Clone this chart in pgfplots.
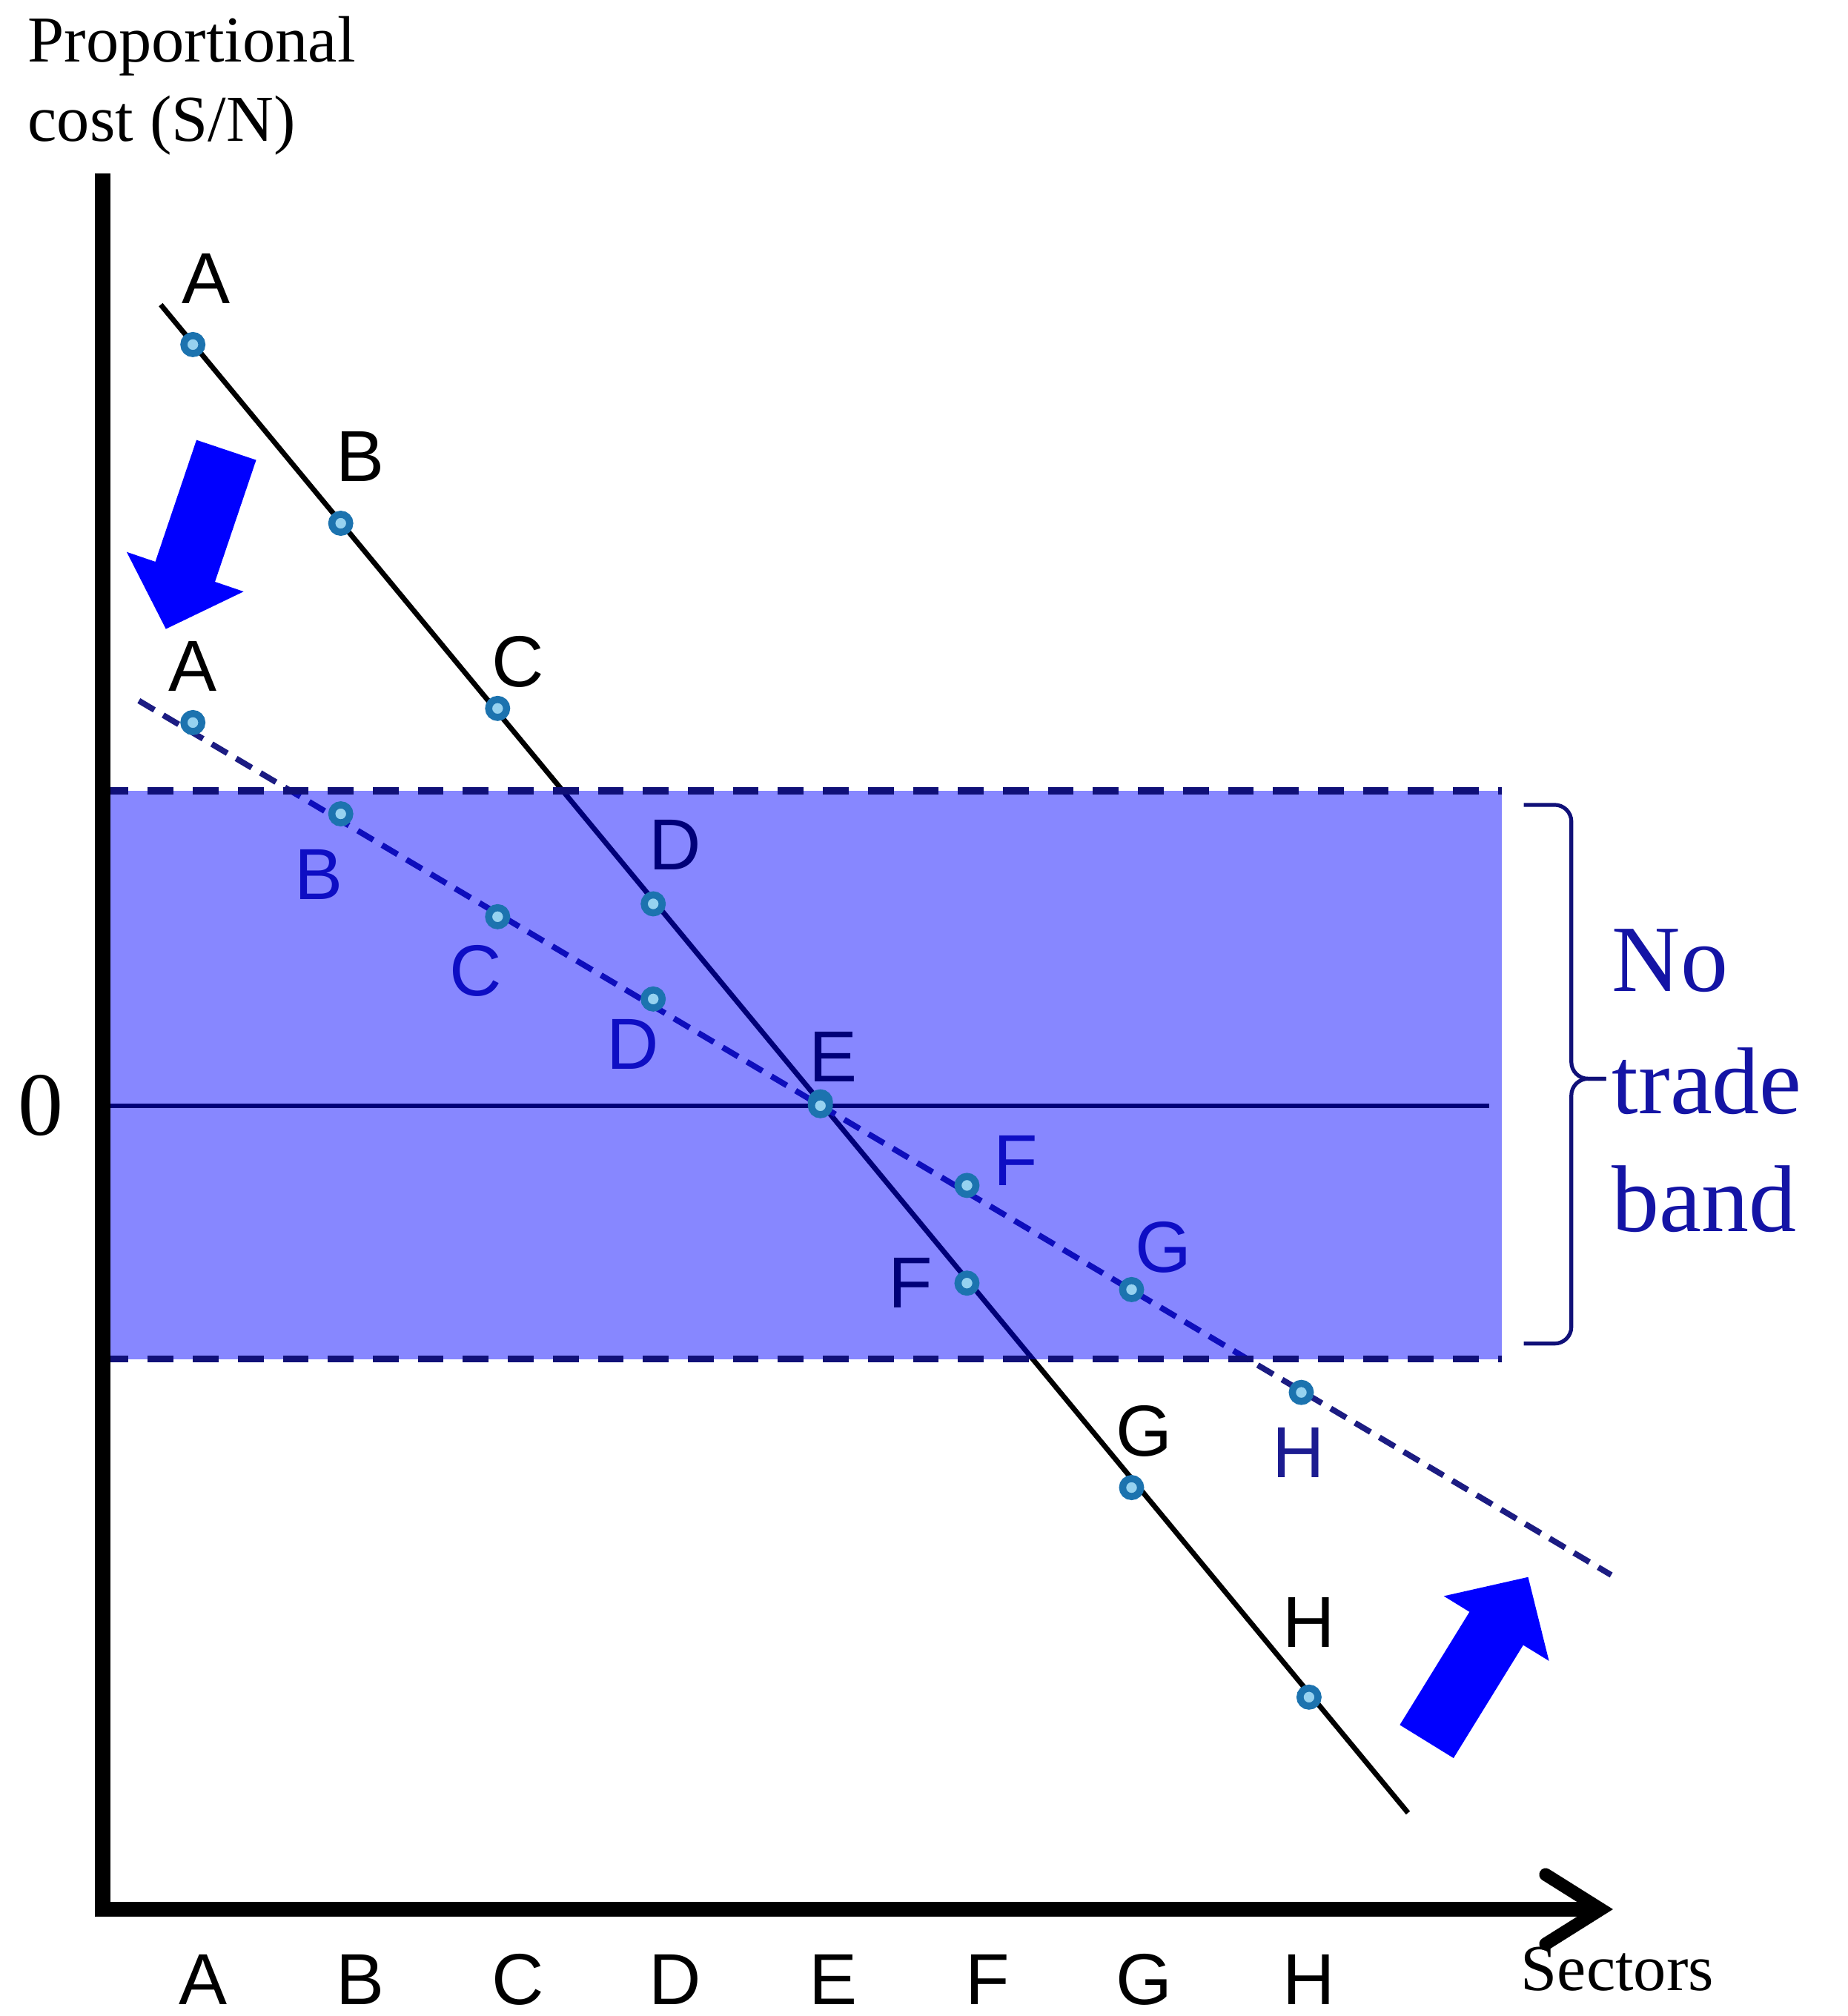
\documentclass[border=0pt]{standalone}
\usepackage{fontspec}
\setmainfont{Liberation Serif}
\newfontfamily\arial{Liberation Sans}
\usepackage{pgfplots}
\pgfplotsset{compat=1.18}
\usetikzlibrary{arrows.meta}
\definecolor{navy}{RGB}{16,16,120}
\definecolor{dblue}{RGB}{28,28,130}
\definecolor{lblue}{RGB}{28,28,145}
\definecolor{mk}{RGB}{28,115,175}
\definecolor{mkin}{RGB}{150,210,240}
\definecolor{txtblue}{RGB}{20,20,165}
\definecolor{arrowblue}{RGB}{0,0,255}
\begin{document}
\begin{tikzpicture}
\begin{axis}[
 scale only axis, width=117mm, height=135mm,
 xmin=0.8, xmax=12.5, ymin=-6.25, ymax=7.25,
 clip=false,
 axis line style={draw=none},
 major tick length=0pt,
 xtick={1.58,2.80,4.03,5.25,6.48,7.68,8.90,10.18},
 xticklabels={A,B,C,D,E,F,G,H},
 xticklabel style={font=\arial\fontsize{16}{16}\selectfont, anchor=base, inner sep=0pt, yshift=-7.4mm},
 ytick={0}, yticklabels={0},
 yticklabel style={font=\fontsize{20}{20}\selectfont, anchor=east, inner sep=0pt, xshift=-3mm},
]
% bounding box
\path (axis cs:0,-7.08) rectangle (axis cs:14.37,8.60);

% zero line
\addplot[black, line width=0.35mm] coordinates {(0.8,0) (11.58,0)};
% original curve
\addplot[black, line width=0.4mm] coordinates {(1.25,6.23) (10.95,-5.50)};
% flattened curve
\addplot[dblue, line width=0.45mm, dash pattern=on 1.4mm off 0.8mm] coordinates {(1.08,3.15) (12.53,-3.65)};
% markers
\addplot[only marks, mark=*, mark size=0.7mm, mark options={draw=mk, fill=mkin, line width=0.55mm}]
 coordinates {(1.50,5.92) (2.65,4.53) (3.87,3.09) (5.08,1.57) (6.38,0.03) (7.52,-1.38) (8.80,-2.97) (10.18,-4.60)};
\addplot[only marks, mark=*, mark size=0.7mm, mark options={draw=mk, fill=mkin, line width=0.55mm}]
 coordinates {(1.50,2.98) (2.65,2.27) (3.87,1.47) (5.08,0.83) (6.38,0.0) (7.52,-0.62) (8.80,-1.43) (10.12,-2.23)};

% point labels
\begin{scope}[every node/.style={inner sep=0pt, font=\arial\fontsize{16}{16}\selectfont}]
\node at (axis cs:1.60,6.43) {A};
\node at (axis cs:2.80,5.05) {B};
\node at (axis cs:4.03,3.45) {C};
\node at (axis cs:5.25,2.03) {D};
\node at (axis cs:6.48,0.38) {E};
\node at (axis cs:7.08,-1.38) {F};
\node at (axis cs:8.90,-2.53) {G};
\node at (axis cs:10.18,-4.02) {H};
\node at (axis cs:1.50,3.42) {A};
\node[text=lblue] at (axis cs:2.48,1.80) {B};
\node[text=lblue] at (axis cs:3.70,1.05) {C};
\node[text=lblue] at (axis cs:4.92,0.48) {D};
\node[text=lblue] at (axis cs:7.90,-0.43) {F};
\node[text=lblue] at (axis cs:9.05,-1.10) {G};
\node[text=lblue] at (axis cs:10.10,-2.70) {H};
\end{scope}

% no trade band (translucent, on top)
\addplot[draw=none, fill=blue, fill opacity=0.47] coordinates {(0.8,-1.97) (11.68,-1.97) (11.68,2.45) (0.8,2.45)} -- cycle;
\addplot[navy, line width=0.55mm, dash pattern=on 2.0mm off 1.5mm] coordinates {(0.8,2.45) (11.68,2.45)};
\addplot[navy, line width=0.55mm, dash pattern=on 2.0mm off 1.5mm] coordinates {(0.8,-1.97) (11.68,-1.97)};

% axes
\draw[line width=1.2mm] (axis cs:0.8,7.25) -- (axis cs:0.8,-6.25) -- (axis cs:12.4,-6.25);
\draw[line width=1mm, line cap=round, line join=miter] (axis cs:12.02,-5.98) -- (axis cs:12.45,-6.25) -- (axis cs:12.02,-6.52);

% brace
\draw[navy, line width=0.3mm, rounded corners=1.3mm] (axis cs:11.85,2.34) -- (axis cs:12.22,2.34) -- (axis cs:12.22,0.21) -- (axis cs:12.49,0.21);
\draw[navy, line width=0.3mm, rounded corners=1.3mm] (axis cs:12.49,0.21) -- (axis cs:12.22,0.21) -- (axis cs:12.22,-1.85) -- (axis cs:11.85,-1.85);

% block arrows
\fill[arrowblue] (axis cs:1.528,5.178) -- (axis cs:1.992,5.022) -- (axis cs:1.672,4.075) -- (axis cs:1.895,3.999) -- (axis cs:1.290,3.708) -- (axis cs:0.985,4.307) -- (axis cs:1.208,4.231) -- cycle;
\fill[arrowblue] (axis cs:10.886,-4.816) -- (axis cs:11.428,-3.937) -- (axis cs:11.228,-3.814) -- (axis cs:11.884,-3.666) -- (axis cs:12.046,-4.318) -- (axis cs:11.846,-4.195) -- (axis cs:11.304,-5.074) -- cycle;

% texts
\node[anchor=base west, inner sep=0pt, font=\fontsize{14.5}{14.5}\selectfont] at (axis cs:0.21,8.12) {Proportional};
\node[anchor=base west, inner sep=0pt, font=\fontsize{14.5}{14.5}\selectfont] at (axis cs:0.21,7.50) {cost (S/N)};
\node[anchor=base west, inner sep=0pt, font=\fontsize{14.5}{14.5}\selectfont] at (axis cs:11.82,-6.88) {Sectors};
\node[anchor=base west, inner sep=0pt, text=txtblue, font=\fontsize{21}{21}\selectfont] at (axis cs:12.53,0.89) {No};
\node[anchor=base west, inner sep=0pt, text=txtblue, font=\fontsize{21}{21}\selectfont] at (axis cs:12.53,-0.06) {trade};
\node[anchor=base west, inner sep=0pt, text=txtblue, font=\fontsize{21}{21}\selectfont] at (axis cs:12.53,-0.98) {band};
\end{axis}
\end{tikzpicture}
\end{document}
